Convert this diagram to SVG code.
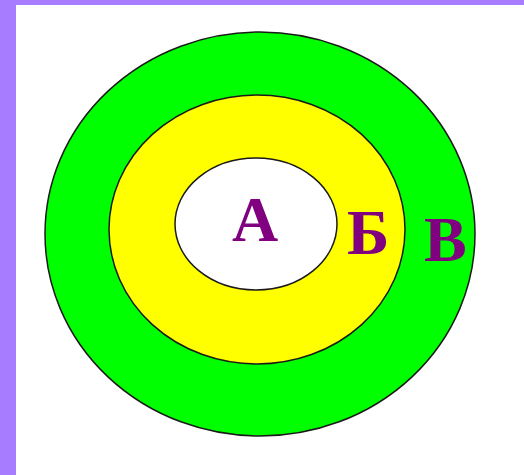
<svg xmlns="http://www.w3.org/2000/svg" width="524" height="475" viewBox="0 0 524 475">
<style>
.ring{stroke:#1a1a1a;stroke-width:1.5}
.lbl{font-family:"Liberation Serif",serif;font-weight:bold;font-size:64px;fill:#800080}
</style>
<rect x="0" y="0" width="524" height="475" fill="#A87CFF"/>
<rect x="16" y="5" width="508" height="470" fill="#FFFFFF"/>
<g id="V">
<ellipse class="ring" cx="260" cy="234" rx="215" ry="202" fill="#00FF00"/>
<text class="lbl" x="424" y="261">В</text>
</g>
<g id="B">
<ellipse class="ring" cx="257" cy="229.5" rx="148" ry="134.5" fill="#FFFF00"/>
<text class="lbl" x="347" y="254">Б</text>
</g>
<g id="A">
<ellipse class="ring" cx="256" cy="224" rx="81" ry="66" fill="#FFFFFF"/>
<text class="lbl" x="232" y="241">А</text>
</g>
</svg>
